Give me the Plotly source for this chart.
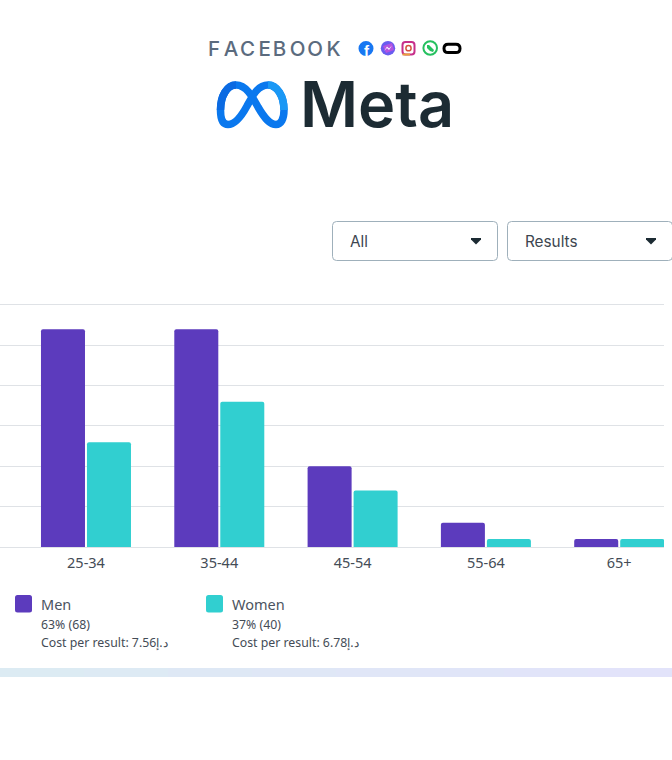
import plotly.graph_objects as go

W, H = 672, 760
categories = ["25-34", "35-44", "45-54", "55-64", "65+"]
men = [27, 27, 10, 3, 1]
women = [13, 18, 7, 1, 1]
y_ticks = [0, 5, 10, 15, 20, 25, 30]
legend_names = ["Men", "Women"]
legend_share = ["63% (68)", "37% (40)"]
legend_cost = ["Cost per result: 7.56د.إ", "Cost per result: 6.78د.إ"]
filters = ["All", "Results"]
PURPLE, TEAL = "#5c3bbd", "#31cfd0"
TXT = "#444c56"
FONT = "Noto Sans"


def px(x):
    return x / W


def py(y):
    return 1 - y / H


def rrect(x0, y0, x1, y1, r):
    a, b, c, d = px(x0), py(y0), px(x1), py(y1)
    rx, ry = r / W, r / H
    return (f"M{a+rx},{b} L{c-rx},{b} Q{c},{b} {c},{b-ry} L{c},{d+ry} Q{c},{d} {c-rx},{d} "
            f"L{a+rx},{d} Q{a},{d} {a},{d+ry} L{a},{b-ry} Q{a},{b} {a+rx},{b} Z")


def pts(cmd):
    """Turn a path given in page pixels into paper coordinates."""
    out, is_x = [], True
    for tok in cmd.replace(",", " ").split():
        if tok[0].isalpha():
            out.append(tok)
        else:
            v = float(tok)
            out.append(str(px(v) if is_x else py(v)))
            is_x = not is_x
    return " ".join(out)


shapes, notes = [], []


def text(x, y, s, size, color=TXT, anchor="left", family=FONT, weight=None):
    f = dict(size=size, color=color, family=family)
    if weight:
        f["weight"] = weight
    notes.append(dict(x=px(x), y=py(y), xref="paper", yref="paper", text=s, showarrow=False,
                      xanchor=anchor, yanchor="middle", font=f, borderpad=0))


def path(d, fill="rgba(0,0,0,0)", line=None, width=0):
    shapes.append(dict(type="path", path=d, xref="paper", yref="paper", fillcolor=fill,
                       line=dict(color=line or "rgba(0,0,0,0)", width=width)))


def circle(cx, cy, r, fill="rgba(0,0,0,0)", line=None, width=0):
    shapes.append(dict(type="circle", xref="paper", yref="paper",
                       x0=px(cx - r), x1=px(cx + r), y0=py(cy + r), y1=py(cy - r), fillcolor=fill,
                       line=dict(color=line or "rgba(0,0,0,0)", width=width)))


# Header: wordmark
wordmark = "F\u2009A\u200aC\u2009E\u200aB\u2009O\u200aO\u2009K"
text(206.5, 48.5, wordmark, 20.5, "#5b6b7e", family="Inter", weight=500)
# Social icons
circle(366, 48.5, 7.5, fill="#1877f2")
text(367, 50.5, "f", 15, "#ffffff", "center", "Liberation Sans", 700)
circle(388, 48.2, 7.2, fill="#6a5cf0")
path(pts("M 383 46 L 392 43 L 394 50 L 386 53 Z"), fill="#b453e0")
path(pts("M 384 51 L 387 46.5 L 389 48.5 L 392 45.5 L 389 50 L 387 48 Z"), fill="#ffffff")
path(rrect(402.5, 42, 414.5, 54.5, 3), line="#c72f8a", width=2)
path(pts("M 402.5 54.5 L 410 54.5"), line="#e9a23b", width=2)
circle(408.5, 48.2, 2.6, line="#d6533f", width=1.5)
circle(430.2, 48, 6.8, line="#25c05f", width=2)
path(pts("M 427 45 L 429 45 L 434 50 L 433 52 L 430 51 L 427 48 Z"), fill="#25c05f")
path(rrect(444, 44.2, 460, 52.5, 4.1), line="#000000", width=3)

# Meta logo
loop = ("M 236 85 C 246 85 252 96 258 107 C 265 119 270 124.5 276 124.5 "
        "C 281 124.5 284 119 284 110 C 284 96 277 85 268 85 C 258 85 253 95 247 106 "
        "C 240 119 234 124.5 228 124.5 C 223 124.5 220.5 119 220.5 110 C 220.5 96 227 85 236 85 Z")
path(pts(loop), line="#0a78ee", width=7.5)
path(pts("M 220.5 110 C 220.5 96 227 85 236 85"), line="#0b6ae2", width=7.5)
path(pts("M 284 110 C 284 96 277 85 268 85"), line="#1a98f5", width=7.5)
text(299, 104.5, "Meta", 63, "#1c2b33", family="Inter", weight=600)

# Filter boxes
for (x0, x1), label in zip([(332.5, 497.5), (507.5, 672.5)], filters):
    path(rrect(x0, 221.5, x1, 260.5, 4), fill="#ffffff", line="#9fb0bb", width=1)
    text(x0 + 16.5, 241.5, label, 15.3, "#3d4650", family="Inter")
    ax = x1 - 21.5
    path(pts(f"M {ax-5} 238 L {ax+5} 238 L {ax+5} 239.5 L {ax} 244.5 L {ax-5} 239.5 Z"), fill="#1c2b33")

# Legend
for x0, name, share, cost, col in zip([15, 206], legend_names, legend_share, legend_cost, [PURPLE, TEAL]):
    path(rrect(x0, 595, x0 + 17, 612.5, 2.5), fill=col)
    text(x0 + 25, 603.5, name, 14.5, "#4b5360")
    text(x0 + 25, 624.5, share, 12.3, TXT)
    text(x0 + 25, 642.5, cost, 12.3, TXT)

# Footer band
band = ["#dcebf3", "#ddeaf4", "#dee8f5", "#dfe7f6", "#e0e6f7", "#e0e5f8", "#e1e4f9", "#e2e3fa"]
for i, c in enumerate(band):
    shapes.append(dict(type="rect", xref="paper", yref="paper", x0=i / 8, x1=(i + 1) / 8,
                       y0=py(677), y1=py(668), fillcolor=c, line=dict(width=0)))

fig = go.Figure()
fig.add_bar(name="Men", x=categories, y=men, marker=dict(color=PURPLE, cornerradius=2, line=dict(width=0)))
fig.add_bar(name="Women", x=categories, y=women, marker=dict(color=TEAL, cornerradius=2, line=dict(width=0)))
fig.update_layout(
    width=W, height=H, margin=dict(l=0, r=0, t=0, b=0), autosize=False,
    paper_bgcolor="#ffffff", plot_bgcolor="#ffffff", showlegend=False,
    barmode="group", bargap=0.31, bargroupgap=0.043,
    shapes=shapes, annotations=notes,
    xaxis=dict(domain=[0, 664 / W], type="category", range=[-0.645, 4.336], showgrid=False, ticks="",
               showline=True, linecolor="#dfe2e6", linewidth=1,
               tickfont=dict(family=FONT, size=14.5, color=TXT), ticklabelstandoff=3, fixedrange=True),
    yaxis=dict(domain=[py(547), py(302)], range=[0, 30.37], tickvals=y_ticks, showticklabels=False,
               gridcolor="#dfe2e6", gridwidth=1, zeroline=False, fixedrange=True),
)
fig.write_html("out.html", config=dict(displayModeBar=False),
               post_script="document.body.style.margin='0';document.body.style.overflow='hidden';")
